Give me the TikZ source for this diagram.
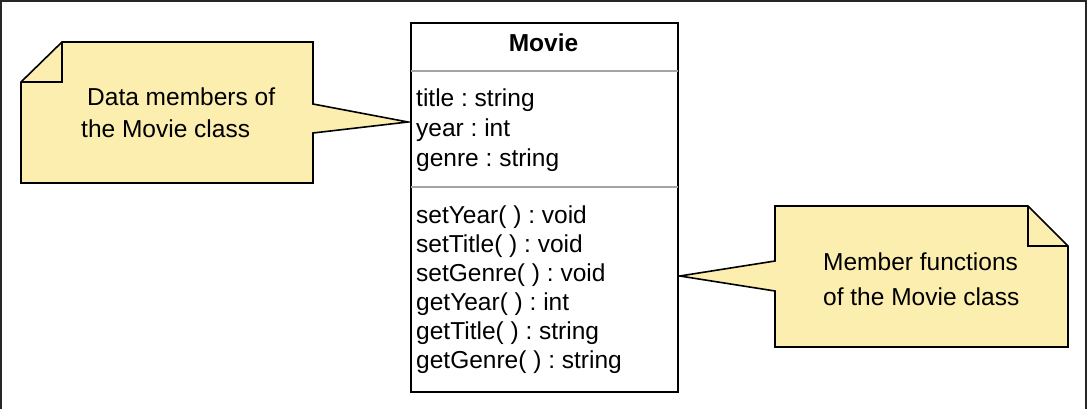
\documentclass[tikz,border=0pt]{standalone}
\usepackage{fontspec}
\setmainfont{Liberation Sans}
\frenchspacing
\begin{document}
\begin{tikzpicture}[x=1pt,y=-1pt,line join=miter]
\definecolor{notefill}{RGB}{252,238,175}
\definecolor{sepgray}{RGB}{165,165,165}
\tikzset{
  notebody/.style={draw=black,fill=notefill,line width=1.6pt},
  notefold/.style={draw=black,line width=1.6pt},
  notetext/.style={font=\fontsize{24.5}{29}\selectfont,anchor=base west,inner sep=0pt},
  member/.style={font=\fontsize{24.5}{29}\selectfont,anchor=base west,inner sep=0pt},
  classhead/.style={font=\bfseries\fontsize{24.5}{29}\selectfont,anchor=base,inner sep=0pt},
  classbox/.style={draw=black,line width=1.8pt,fill=white,inner sep=0pt,
    minimum width=267pt,minimum height=369pt,anchor=north west},
  divider/.style={draw=sepgray,line width=1.4pt,shorten <=1pt,shorten >=1pt},
  frameline/.style={draw=black!85,line width=2pt},
}
\useasboundingbox (0,0) rectangle (1087,409);
% window frame (open at the bottom)
\draw[frameline] (1,409) -- (1,1) -- (1086,1) -- (1086,409);

% class box outline, used as anchor for the callout tips
\path (410,22) node[classbox] (movie) {};
\coordinate (tipL) at ([xshift=-2pt]movie.west |- 0,122);
\coordinate (tipR) at ([xshift=1pt]movie.east |- 0,276);

% callout for the data members
\draw[notebody] (62,42) -- (313,42) -- (313,104) -- (tipL) -- (313,133)
  -- (313,183) -- (21,183) -- (21,82) -- cycle;
\draw[notefold] (62,42) -- (62,82) -- (21,82);
\node[notetext] (dm1) at (87,106) {Data members of};
\node[notetext] (dm2) at (81,138) {the Movie class};

% callout for the member functions
\draw[notebody] (775,206) -- (1028,206) -- (1068,246) -- (1068,347)
  -- (775,347) -- (775,291) -- (tipR) -- (775,261) -- cycle;
\draw[notefold] (1028,206) -- (1028,246) -- (1068,246);
\node[notetext] (mf1) at (823,270) {Member functions};
\node[notetext] (mf2) at (823,305) {of the Movie class};

% class box on top
\path (410,22) node[classbox] (movieb) {};
\node[classhead] (name) at (543.5,51.5) {Movie};
\draw[divider] (movieb.west |- 0,71) -- (movieb.east |- 0,71);
\draw[divider] (movieb.west |- 0,187) -- (movieb.east |- 0,187);

\node[member] (a1) at (416,107) {title : string};
\node[member] (a2) at (416,136.5) {year : int};
\node[member] (a3) at (416,166) {genre : string};

\node[member] (m1) at (416,223) {setYear( ) : void};
\node[member] (m2) at (416,252) {setTitle( ) : void};
\node[member] (m3) at (416,281) {setGenre( ) : void};
\node[member] (m4) at (416,310) {getYear( ) : int};
\node[member] (m5) at (416,339) {getTitle( ) : string};
\node[member] (m6) at (416,368) {getGenre( ) : string};
\end{tikzpicture}
\end{document}
